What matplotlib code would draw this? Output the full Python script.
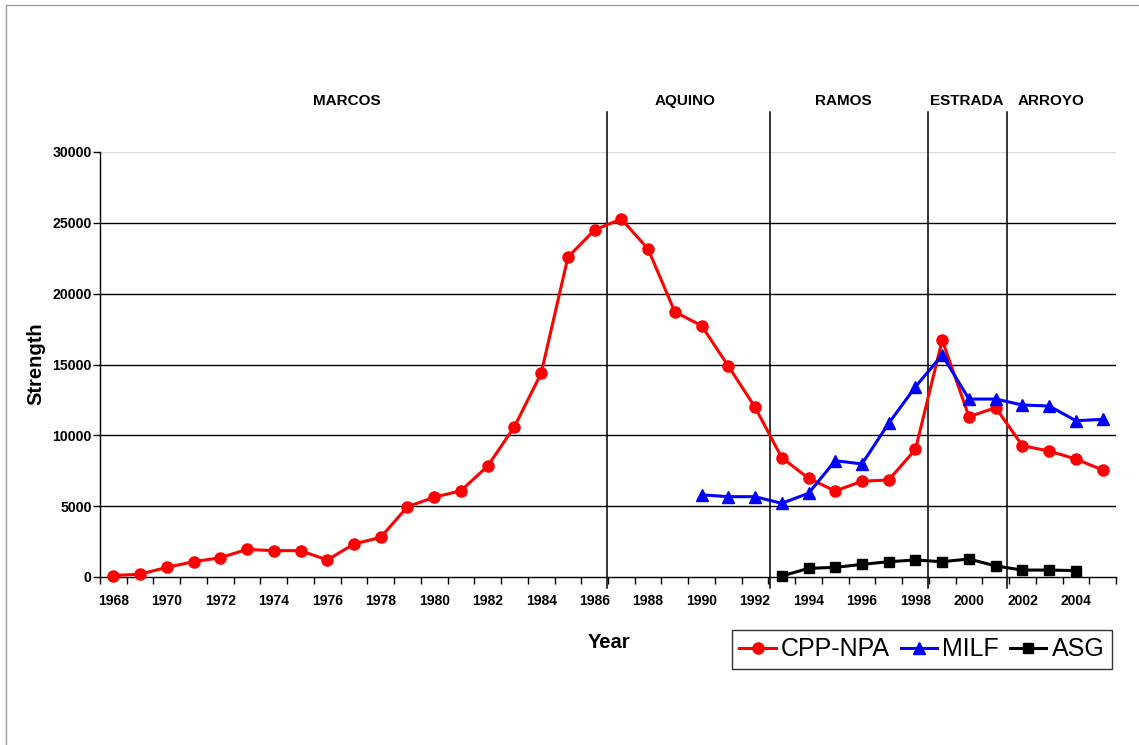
import matplotlib
matplotlib.use("Agg")
import matplotlib.pyplot as plt
from matplotlib.lines import Line2D

plt.rcParams['font.family'] = ['Liberation Sans', 'DejaVu Sans']

years = list(range(1968, 2006))
cpp_npa = [100, 200, 680, 1080, 1360, 1950, 1860, 1860, 1200, 2330, 2800, 4960, 5630, 6090,
           7830, 10610, 14380, 22570, 24500, 25270, 23150, 18710, 17740, 14890, 11980, 8420,
           6970, 6070, 6760, 6850, 9010, 16730, 11320, 11950, 9270, 8890, 8330, 7550]
milf_years = list(range(1990, 2006))
milf = [5800, 5670, 5670, 5200, 5910, 8210, 7980, 10850, 13430, 15670, 12560, 12560,
        12140, 12070, 11030, 11130]
asg_years = list(range(1993, 2005))
asg = [70, 610, 680, 890, 1080, 1200, 1080, 1270, 780, 490, 490, 450]

admin_names = ["MARCOS", "AQUINO", "RAMOS", "ESTRADA", "ARROYO"]
admin_label_x = [1976.74, 1989.4, 1995.3, 1999.92, 2003.08]
admin_bounds = [1986.47, 1992.56, 1998.48, 2001.41]

fig = plt.figure(figsize=(11.39, 7.45), dpi=100)
ax = fig.add_axes([100/1139, 1-577/745, 1016/1139, 425/745])

ax.set_xlim(1967.5, 2005.5)
ax.set_ylim(0, 30000)

# gridlines
for v in [5000, 10000, 15000, 20000, 25000]:
    ax.axhline(v, color='black', lw=1.0, zorder=1)
ax.axhline(30000, color='#d9d9d9', lw=1.0, zorder=1)

# administration boundaries
for b in admin_bounds:
    ax.plot([b, b], [-800, 32800], color='black', lw=1.1, clip_on=False, zorder=2)
for name, x in zip(admin_names, admin_label_x):
    ax.text(x, 33600, name, ha='center', va='center', fontsize=11, fontweight='bold')

ax.plot(years, cpp_npa, color='#ff0000', lw=2.2, marker='o', ms=8, label='CPP-NPA', zorder=4, clip_on=False)
ax.plot(milf_years, milf, color='#0000ff', lw=2.2, marker='^', ms=9, label='MILF', zorder=4, clip_on=False)
ax.plot(asg_years, asg, color='black', lw=2.2, marker='s', ms=7.5, label='ASG', zorder=5, clip_on=False)

# axes styling
for s in ['top', 'right']:
    ax.spines[s].set_visible(False)
ax.spines['left'].set_linewidth(1.0)
ax.spines['bottom'].set_linewidth(1.0)

ax.set_yticks([0, 5000, 10000, 15000, 20000, 25000, 30000])
ax.set_yticklabels(['0', '5000', '10000', '15000', '20000', '25000', '30000'],
                   fontsize=10.2, fontweight='bold')
ax.tick_params(axis='y', length=5, width=1, direction='out', pad=1)

ax.set_xticks([y + 0.5 for y in range(1967, 2006)], minor=True)
ax.set_xticks(list(range(1968, 2006, 2)))
ax.set_xticklabels([str(y) for y in range(1968, 2006, 2)], fontsize=10, fontweight='bold')
ax.tick_params(axis='x', which='major', length=0, pad=12)
ax.tick_params(axis='x', which='minor', length=5, width=1, direction='out')

ax.set_xlabel('Year', fontsize=14.5, fontweight='bold')
ax.set_ylabel('Strength', fontsize=14.5, fontweight='bold')
ax.xaxis.set_label_coords((609-100)/1016, -(633-577)/425)
ax.yaxis.set_label_coords(-(100-45)/1016, (577-364)/425)

leg = ax.legend(loc='upper left', bbox_to_anchor=((732-100)/1016, -(630-577)/425),
                ncol=3, fontsize=18, frameon=True, fancybox=False, edgecolor='black',
                handlelength=1.45, handletextpad=0.2, columnspacing=0.45, borderpad=0.3,
                borderaxespad=0)
leg.get_frame().set_linewidth(1.0)

# figure frame (top/left edges visible)
fig.add_artist(Line2D([6/1139, 6/1139], [0, 1-5/745], transform=fig.transFigure, color='#a0a0a0', lw=1))
fig.add_artist(Line2D([6/1139, 1], [1-5/745, 1-5/745], transform=fig.transFigure, color='#a0a0a0', lw=1))

fig.savefig('out.png', dpi=100)
